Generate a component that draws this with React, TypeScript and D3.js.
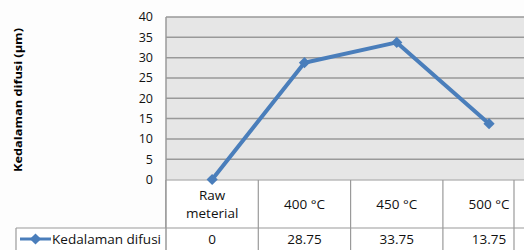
import React from "react";
import * as d3 from "d3";

const categories = ["Raw\nmeterial", "400 °C", "450 °C", "500 °C"];
const values = [0, 28.75, 33.75, 13.75];
const valueLabels = ["0", "28.75", "33.75", "13.75"];
const yTicks = [0, 5, 10, 15, 20, 25, 30, 35, 40];
const seriesName = "Kedalaman difusi";
const yTitle = "Kedalaman difusi (µm)";

const W = 524, H = 250;
const plotLeft = 166, plotTop = 17, plotBottom = 179.5;
const colW = 92.3;
const tableTop = 180, rowDiv = 228, tableRight = 514;
const font = "'Open Sans', 'Noto Sans', sans-serif";
const blue = "#4a7ebb";

export default function App() {
  const x = d3.scaleBand().domain(categories).range([plotLeft, plotLeft + colW * categories.length]);
  const y = d3.scaleLinear().domain([0, 40]).range([plotBottom, plotTop]);
  const line = d3.line<number>().x((_, i) => x(categories[i])! + x.bandwidth() / 2).y(d => y(d));
  const diamond = d3.symbol().type(d3.symbolDiamond2).size(80)()!;
  return (
    <svg width={W} height={H} style={{ position: "absolute", left: 0, top: 0, background: "#fff" }}>
      <rect x={0} y={0} width={W} height={H} fill="#fdfdfd" />
      <rect x={plotLeft} y={plotTop} width={W - plotLeft} height={plotBottom - plotTop} fill="#e6e6e6" />
      {yTicks.slice(1).map(t => (
        <line key={t} x1={plotLeft} x2={W} y1={y(t)} y2={y(t)} stroke="#999" strokeWidth={1.5} />
      ))}
      <line x1={plotLeft} x2={plotLeft} y1={plotTop} y2={H} stroke="#9a9a9a" strokeWidth={1.5} />
      {yTicks.map(t => (
        <text key={t} x={153} y={y(t)} dy="0.35em" textAnchor="end" fontFamily={font} fontSize={12.5} fill="#111">{t}</text>
      ))}
      <text transform={`translate(22,100) rotate(-90)`} textAnchor="middle" fontFamily={font} fontWeight="bold" fontSize={11}
        textLength={144} lengthAdjust="spacingAndGlyphs" fill="#000">{yTitle}</text>
      {/* table */}
      <rect x={plotLeft} y={tableTop} width={W - plotLeft} height={H - tableTop} fill="#fff" />
      <rect x={16} y={rowDiv} width={plotLeft - 16} height={H - rowDiv} fill="#fff" />
      <line x1={plotLeft} x2={W} y1={tableTop} y2={tableTop} stroke="#9a9a9a" strokeWidth={1.2} />
      <line x1={16} x2={W} y1={rowDiv} y2={rowDiv} stroke="#9a9a9a" strokeWidth={1.2} />
      <line x1={16} x2={16} y1={rowDiv} y2={H} stroke="#9a9a9a" strokeWidth={1.2} />
      <line x1={plotLeft} x2={plotLeft} y1={tableTop} y2={H} stroke="#9a9a9a" strokeWidth={1.5} />
      {categories.slice(1).map(c => (
        <line key={c} x1={x(c)!} x2={x(c)!} y1={tableTop} y2={H} stroke="#9a9a9a" strokeWidth={1.2} />
      ))}
      <line x1={tableRight} x2={tableRight} y1={tableTop} y2={H} stroke="#9a9a9a" strokeWidth={1.2} />
      {categories.map(c => {
        const lines = c.split("\n");
        const cx = x(c)! + x.bandwidth() / 2;
        const cy = (tableTop + rowDiv) / 2;
        return (
          <text key={c} x={cx} y={cy - (lines.length - 1) * 9} textAnchor="middle" fontFamily={font} fontSize={13.5} fill="#111">
            {lines.map((l, i) => <tspan key={i} x={cx} dy={i === 0 ? "0.35em" : 18}>{l}</tspan>)}
          </text>
        );
      })}
      {valueLabels.map((v, i) => (
        <text key={i} x={x(categories[i])! + x.bandwidth() / 2} y={239} dy="0.35em" textAnchor="middle" fontFamily={font} fontSize={13.5} fill="#111">{v}</text>
      ))}
      {/* legend */}
      <line x1={20} x2={51} y1={239} y2={239} stroke={blue} strokeWidth={3} />
      <path d={diamond} transform="translate(35.5,239)" fill={blue} />
      <text x={52} y={239} dy="0.35em" fontFamily={font} fontSize={13} fill="#111" textLength={109} lengthAdjust="spacingAndGlyphs">{seriesName}</text>
      {/* series */}
      <path d={line(values)!} fill="none" stroke={blue} strokeWidth={4} strokeLinejoin="round" />
      {values.map((v, i) => (
        <path key={i} d={diamond} transform={`translate(${x(categories[i])! + x.bandwidth() / 2},${y(v)})`} fill={blue} />
      ))}
    </svg>
  );
}
